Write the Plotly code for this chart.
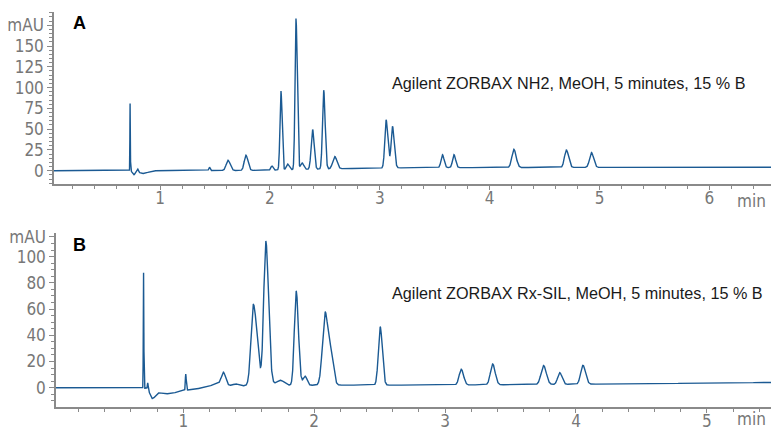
import numpy as np
import plotly.graph_objects as go

# ---------------- Data ----------------
# Panel A: Agilent ZORBAX NH2
a_peak_time   = [0.727, 0.760, 0.797, 0.840, 1.449, 1.617, 1.781, 2.018, 2.100, 2.160, 2.237, 2.292, 2.388, 2.489, 2.589, 3.057, 3.115, 3.570, 3.675, 4.220, 4.698, 4.926]
a_peak_height = [82.0, -5.0, 3.0, -3.5, 4.0, 12.5, 18.5, 5.0, 95.0, 7.0, 182.0, 8.0, 48.0, 95.0, 15.0, 58.0, 50.0, 15.5, 15.5, 22.0, 21.0, 18.0]
a_sigma_left  = [0.002, 0.012, 0.004, 0.030, 0.006, 0.016, 0.015, 0.010, 0.009, 0.012, 0.009, 0.014, 0.013, 0.011, 0.018, 0.012, 0.012, 0.013, 0.013, 0.018, 0.017, 0.017]
a_sigma_right = [0.002, 0.012, 0.004, 0.050, 0.006, 0.020, 0.018, 0.010, 0.010, 0.014, 0.011, 0.016, 0.014, 0.013, 0.020, 0.017, 0.016, 0.015, 0.015, 0.021, 0.020, 0.020]
a_base_time   = [0.034, 1.900, 2.700, 3.300, 6.561]
a_base_value  = [0.0, 0.3, 2.5, 3.6, 4.2]

# Panel B: Agilent ZORBAX Rx-SIL
b_peak_time   = [0.696, 0.728, 0.760, 0.860, 0.980, 1.018, 1.270, 1.306, 1.400, 1.535, 1.630, 1.740, 1.862, 1.930, 2.083, 2.125, 2.504, 3.123, 3.363, 3.752, 3.875, 4.053]
b_peak_height = [88.0, 5.0, -7.0, -4.0, -1.5, 12.5, 2.5, 9.0, 1.5, 62.0, 110.0, 4.0, 72.0, 7.0, 54.0, 24.0, 44.5, 12.0, 16.0, 14.5, 9.0, 14.5]
b_sigma_left  = [0.002, 0.003, 0.015, 0.060, 0.070, 0.003, 0.050, 0.015, 0.020, 0.018, 0.016, 0.030, 0.014, 0.015, 0.020, 0.018, 0.014, 0.016, 0.017, 0.019, 0.015, 0.017]
b_sigma_right = [0.002, 0.003, 0.025, 0.070, 0.090, 0.004, 0.050, 0.016, 0.020, 0.028, 0.021, 0.030, 0.017, 0.015, 0.020, 0.020, 0.016, 0.018, 0.019, 0.021, 0.018, 0.020]
b_base_time   = [0.027, 1.100, 1.200, 1.450, 2.200, 3.000, 4.300, 5.490]
b_base_value  = [0.0, -0.3, 0.5, 1.5, 2.0, 2.0, 2.8, 4.0]

a_y_ticks = [0, 25, 50, 75, 100, 125, 150, 175]
a_y_text  = ["0", "25", "50", "75", "100", "125", "150", "mAU"]
b_y_ticks = [0, 20, 40, 60, 80, 100, 115]
b_y_text  = ["0", "20", "40", "60", "80", "100", "mAU"]
a_x_ticks = [1, 2, 3, 4, 5, 6]
b_x_ticks = [1, 2, 3, 4, 5]

label_a = "Agilent ZORBAX NH2, MeOH, 5 minutes, 15 % B"
label_b = "Agilent ZORBAX Rx-SIL, MeOH, 5 minutes, 15 % B"

# ---------------- Build traces ----------------
def chromatogram(t, times, heights, sl, sr, bt, bv):
    y = np.interp(t, bt, bv)
    for t0, h, s1, s2 in zip(times, heights, sl, sr):
        s = np.where(t < t0, s1, s2)
        y = y + h * np.exp(-0.5 * ((t - t0) / s) ** 2)
    return y

ta = np.linspace(a_base_time[0], a_base_time[-1], 9000)
tb = np.linspace(b_base_time[0], b_base_time[-1], 9000)
ya = chromatogram(ta, a_peak_time, a_peak_height, a_sigma_left, a_sigma_right, a_base_time, a_base_value)
yb = chromatogram(tb, b_peak_time, b_peak_height, b_sigma_left, b_sigma_right, b_base_time, b_base_value)

line_color = "#1b5a93"
grey = "#777777"
axis_grey = "#8a8a8a"
tick_font = dict(family="Liberation Sans Narrow, DejaVu Sans Condensed, Liberation Sans, sans-serif", size=17, color=grey)
text_font = dict(family="Liberation Sans, Roboto, sans-serif", size=16.2, color="#1a1a1a")

fig = go.Figure()
fig.add_trace(go.Scatter(x=ta, y=ya, mode="lines", line=dict(color=line_color, width=1.4),
                         xaxis="x", yaxis="y", showlegend=False, hoverinfo="skip"))
fig.add_trace(go.Scatter(x=tb, y=yb, mode="lines", line=dict(color=line_color, width=1.4),
                         xaxis="x2", yaxis="y2", showlegend=False, hoverinfo="skip"))

common_axis = dict(showgrid=False, zeroline=False, showline=True, linecolor=axis_grey, linewidth=1.5,
                   ticks="outside", tickwidth=1, tickcolor=axis_grey, tickfont=tick_font,
                   automargin=False)

# page body adds an 8 px offset, so the figure is 8 px smaller on each side
fig.update_layout(
    width=772, height=422,
    margin=dict(l=46, r=9, t=4, b=23),
    paper_bgcolor="white", plot_bgcolor="white",
    xaxis=dict(domain=[0, 1], range=[a_base_time[0], a_base_time[-1]], anchor="y",
               tickvals=a_x_ticks, ticklen=4, ticklabelstandoff=-6,
               minor=dict(dtick=0.2, ticks="outside", ticklen=3, tickcolor=axis_grey),
               **common_axis),
    yaxis=dict(domain=[0.5646, 1], range=[-16, 191], anchor="x",
               tickvals=a_y_ticks, ticktext=a_y_text, ticklen=5,
               minor=dict(dtick=5, ticks="outside", ticklen=3, tickcolor=axis_grey),
               **common_axis),
    xaxis2=dict(domain=[0.0028, 1], range=[b_base_time[0], b_base_time[-1]], anchor="y2",
                tickvals=b_x_ticks, ticklen=4, ticklabelstandoff=-6,
                minor=dict(dtick=0.2, ticks="outside", ticklen=3, tickcolor=axis_grey),
                **common_axis),
    yaxis2=dict(domain=[0, 0.4405], range=[-14.7, 118], anchor="x2",
                tickvals=b_y_ticks, ticktext=b_y_text, ticklen=5,
                minor=dict(dtick=5, ticks="outside", ticklen=3, tickcolor=axis_grey),
                **common_axis),
)

bold_font = dict(family="Liberation Sans, Roboto, sans-serif", size=18, color="black")
annotations = [
    dict(text="<b>A</b>", x=0.036, y=0.972, xref="paper", yref="paper", xanchor="center", yanchor="middle",
         showarrow=False, font=bold_font),
    dict(text="<b>B</b>", x=0.036, y=0.41, xref="paper", yref="paper", xanchor="center", yanchor="middle",
         showarrow=False, font=bold_font),
    dict(text=label_a, x=0.4686, y=0.820, xref="paper", yref="paper", xanchor="left", yanchor="middle",
         showarrow=False, font=text_font),
    dict(text=label_b, x=0.4686, y=0.2886, xref="paper", yref="paper", xanchor="left", yanchor="middle",
         showarrow=False, font=text_font),
    dict(text="min", x=0.996, y=0.522, xref="paper", yref="paper", xanchor="right", yanchor="middle",
         showarrow=False, font=tick_font),
    dict(text="min", x=0.996, y=-0.030, xref="paper", yref="paper", xanchor="right", yanchor="middle",
         showarrow=False, font=tick_font),
]
fig.update_layout(annotations=annotations)

fig.write_html("out.html")
